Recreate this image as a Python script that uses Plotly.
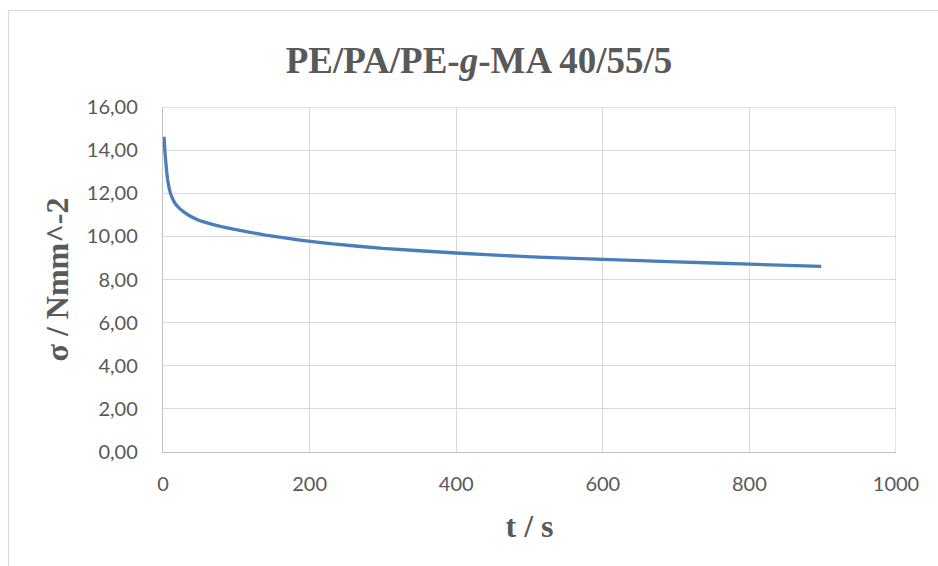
import plotly.graph_objects as go

# creep / relaxation curve
t_s = [1.4, 2.5, 3.6, 5, 6.4, 9, 11.8, 17, 25, 35, 48, 65, 80, 98, 140, 187, 232, 300,
       400, 482, 541, 600, 700, 800, 898]
sigma = [14.62, 14.0, 13.54, 13.0, 12.62, 12.15, 11.84, 11.5, 11.22, 10.98, 10.76, 10.58,
         10.45, 10.32, 10.06, 9.83, 9.65, 9.44, 9.23, 9.08, 9.00, 8.93, 8.82, 8.71, 8.61]

x_ticks = [0, 200, 400, 600, 800, 1000]
y_ticks = [0, 2, 4, 6, 8, 10, 12, 14, 16]

grey = "#595959"
serif = "Liberation Serif"

fig = go.Figure()
fig.add_trace(go.Scatter(
    x=t_s, y=sigma, mode="lines",
    line=dict(color="#4a7ebb", width=3.3, shape="spline", smoothing=0.3),
    showlegend=False, hoverinfo="x+y",
))

W, H = 938, 566
L, R, T, B = 163, 42, 107, 114
pw, ph = W - L - R, H - T - B

def px_x(p):
    return (p - L) / pw

def px_y(p):
    return (H - B - p) / ph

fig.update_layout(
    width=W, height=H,
    margin=dict(l=L, r=R, t=T, b=B),
    paper_bgcolor="white", plot_bgcolor="white",
    separators=", ",
    title=dict(
        text="PE/PA/PE-<i>g</i>-MA 40/55/5",
        font=dict(family=serif, size=37, color=grey, weight="bold"),
        x=479 / W, xanchor="center",
        y=1 - 60 / H, yanchor="middle",
    ),
    xaxis=dict(
        range=[0, 1000], tickvals=x_ticks,
        showgrid=True, gridcolor="#d9d9d9", gridwidth=1.4,
        showline=True, linecolor="#bfbfbf", linewidth=1.4,
        zeroline=False, ticks="",
        tickfont=dict(family="Lato", size=20, color=grey),
        ticklabelstandoff=14,
        title=dict(text="t / s", font=dict(family=serif, size=32, color=grey, weight="bold"),
                   standoff=20),
    ),
    yaxis=dict(
        range=[0, 16], tickvals=y_ticks, tickformat=".2f",
        showgrid=True, gridcolor="#d9d9d9", gridwidth=1.4,
        showline=True, linecolor="#bfbfbf", linewidth=1.4,
        zeroline=False, ticks="",
        tickfont=dict(family="Lato", size=20, color=grey),
        ticklabelstandoff=20,
        title=dict(text="σ / Nmm^-2", font=dict(family=serif, size=32, color=grey, weight="bold"),
                   standoff=8),
    ),
    shapes=[
        # right and top grid edges of the plot area
        dict(type="line", xref="x", yref="y", x0=1000, x1=1000, y0=0, y1=16,
             line=dict(color="#d9d9d9", width=1.4), layer="below"),
        dict(type="line", xref="x", yref="y", x0=0, x1=1000, y0=16, y1=16,
             line=dict(color="#d9d9d9", width=1.4), layer="below"),
        # chart area border (runs off the right and bottom of the picture)
        dict(type="rect", xref="paper", yref="paper",
             x0=px_x(8.5), x1=px_x(W + 10), y0=px_y(H + 10), y1=px_y(10.5),
             line=dict(color="#d9d9d9", width=1.2), fillcolor="rgba(0,0,0,0)"),
    ],
)

# drop the default page margin so the figure sits at the window's corner
fig.write_html("out.html", config={"displayModeBar": False},
               post_script="document.body.style.margin='0';")
